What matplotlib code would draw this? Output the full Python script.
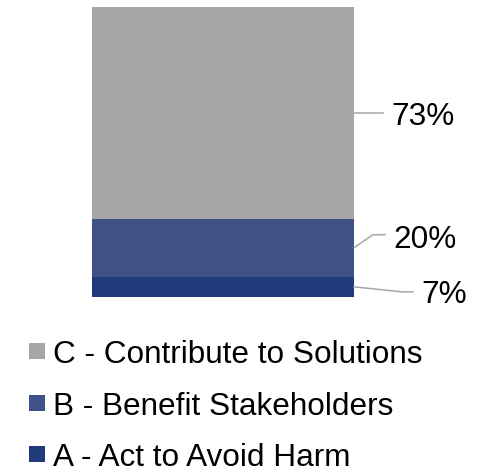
import matplotlib
matplotlib.use("Agg")
import matplotlib.pyplot as plt
from matplotlib.patches import Rectangle
from matplotlib.lines import Line2D

categories = ["A - Act to Avoid Harm", "B - Benefit Stakeholders", "C - Contribute to Solutions"]
values = [7, 20, 73]
labels = ["7%", "20%", "73%"]
colors = ["#213A7B", "#3F5186", "#A6A6A6"]

plt.rcParams['font.family'] = ['Liberation Sans', 'DejaVu Sans']

W, H = 488, 468
fig = plt.figure(figsize=(W / 100, H / 100), dpi=100)
ax = fig.add_axes([92 / W, (H - 297) / H, 262 / W, 290 / H])
ax.set_xlim(-0.5, 0.5)
ax.set_ylim(0, sum(values))
ax.axis("off")

bottom = 0
mids = []
for v, c in zip(values, colors):
    ax.bar(0, v, width=1.0, bottom=bottom, color=c, linewidth=0)
    mids.append(bottom + v / 2)
    bottom += v

# leader lines + labels (pixel offsets from bar edge point)
# (elbow dx, elbow dy, end dx, text dx, baseline drop) in pixels; dy positive = up
leader = [
    (48, -5, 59, 67, 11),   # A
    (19, 13, 31, 39, 13),   # B
    (0, 0, 29, 37, 12),     # C
]
fs = 22.7
for m, lab, (ex, ey, enx, tx, bd) in zip(mids, labels, leader):
    x0, y0 = ax.transData.transform((0.5, m))
    pts_x = [x0, x0 + ex, x0 + enx]
    pts_y = [y0, y0 + ey, y0 + ey]
    fx = [p / W for p in pts_x]
    fy = [p / H for p in pts_y]
    fig.add_artist(Line2D(fx, fy, color="#A6A6A6", lw=1.1, transform=fig.transFigure))
    fig.text((x0 + tx) / W, (y0 + ey - bd) / H, lab, fontsize=fs, color="black",
             ha="left", va="baseline")

# legend (top to bottom: C, B, A)
rows_base = [363, 415, 466]
rows_sq = [351, 403, 454]
for i, (cat, c) in enumerate(zip(categories[::-1], colors[::-1])):
    ys = rows_sq[i]
    fig.add_artist(Rectangle((29 / W, (H - ys - 8) / H), 16 / W, 16 / H,
                             transform=fig.transFigure, color=c, lw=0))
    fig.text(53 / W, (H - rows_base[i]) / H, cat, fontsize=fs, ha="left", va="baseline")

fig.savefig("out.png", dpi=100)
